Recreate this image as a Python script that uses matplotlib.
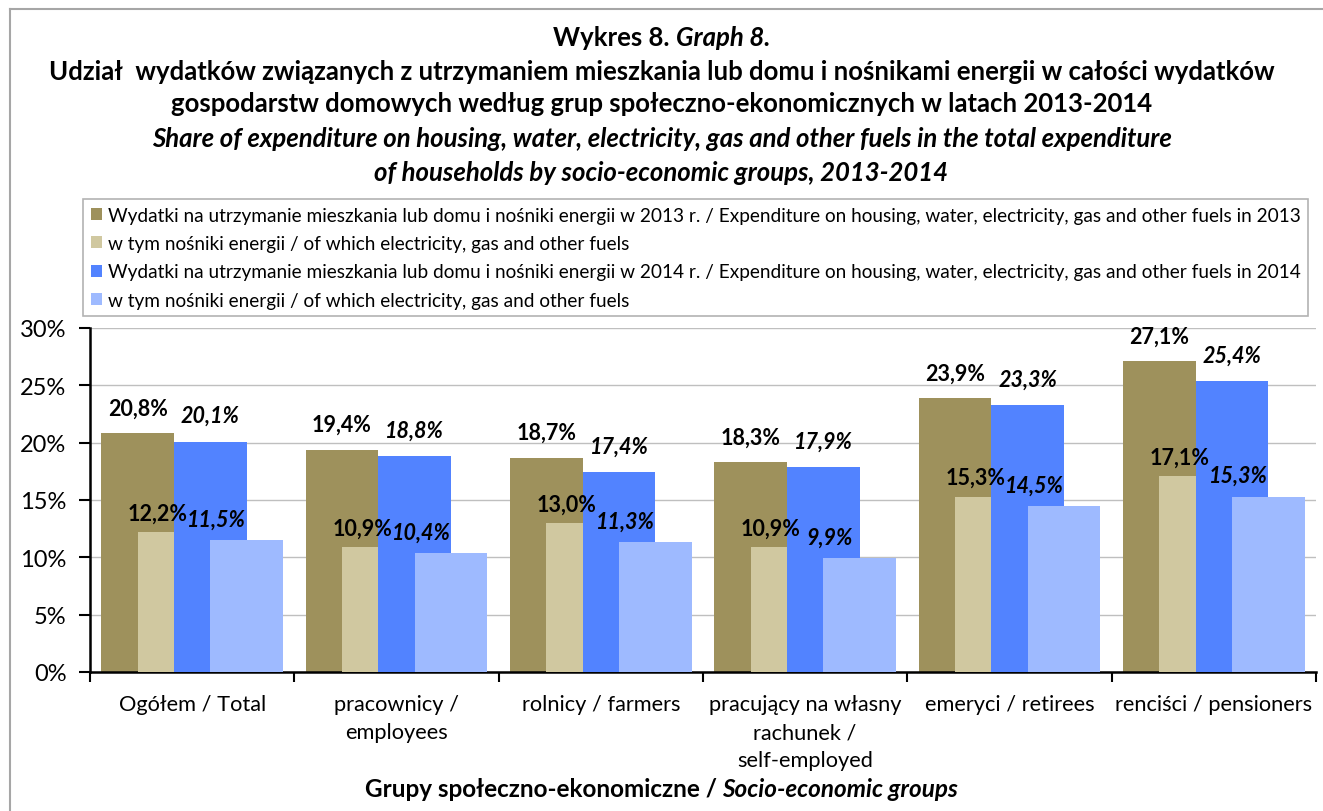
import matplotlib
matplotlib.use("Agg")
import matplotlib.pyplot as plt
from matplotlib.patches import Patch
from matplotlib.lines import Line2D
import numpy as np

plt.rcParams['font.family'] = ['Lato', 'DejaVu Sans']

groups = ["Ogółem / Total", "pracownicy /\nemployees", "rolnicy / farmers",
          "pracujący na własny\nrachunek /\nself-employed", "emeryci / retirees",
          "renciści / pensioners"]
housing_2013 = [20.8, 19.4, 18.7, 18.3, 23.9, 27.1]
energy_2013 = [12.2, 10.9, 13.0, 10.9, 15.3, 17.1]
housing_2014 = [20.1, 18.8, 17.4, 17.9, 23.3, 25.4]
energy_2014 = [11.5, 10.4, 11.3, 9.9, 14.5, 15.3]
legend_labels = [
    "Wydatki na utrzymanie mieszkania lub domu i nośniki energii w 2013 r. / Expenditure on housing, water, electricity, gas and other fuels in 2013",
    "w tym nośniki energii / of which electricity, gas and other fuels",
    "Wydatki na utrzymanie mieszkania lub domu i nośniki energii w 2014 r. / Expenditure on housing, water, electricity, gas and other fuels in 2014",
    "w tym nośniki energii / of which electricity, gas and other fuels",
]
colors = ["#9E915C", "#D0C8A0", "#5283FF", "#9EBAFF"]
series = [housing_2013, energy_2013, housing_2014, energy_2014]

fig = plt.figure(figsize=(13.23, 8.12), dpi=100)
ax = fig.add_axes([90/1323, 1-673/812, (1316-90)/1323, (673-329)/812])

x = np.arange(len(groups))
w = 0.356
step = w / 2
offs = [-1.5*step, -0.5*step, 0.5*step, 1.5*step]
# label offsets in pixels (Excel-like placement)
lab_off = [(0, 25), (-16, 19), (0, 26), (-30, 21)]
for k in range(4):
    bars = ax.bar(x + offs[k], series[k], w, color=colors[k], zorder=2 + k)
    for b, v in zip(bars, series[k]):
        ax.annotate(("%.1f%%" % v).replace(".", ","),
                    (b.get_x() + b.get_width()/2, v),
                    xytext=lab_off[k], textcoords="offset pixels",
                    ha="center", va="center", fontsize=15.5, fontweight="bold",
                    fontstyle="italic" if k >= 2 else "normal", zorder=10)

ax.set_xlim(-0.5, 5.5)
ax.set_ylim(0, 30)
ax.set_yticks(range(0, 31, 5))
ax.set_yticklabels(["%d%%" % t for t in range(0, 31, 5)], fontsize=17)
ax.yaxis.grid(True, color="#BFBFBF", lw=1, zorder=0)
ax.set_axisbelow(True)
ax.set_xticks(np.arange(-0.5, 6, 1))
ax.set_xticklabels([])
ax.set_xticks(x, minor=True)
ax.set_xticklabels(groups, minor=True, fontsize=15.7, va="top", linespacing=1.5)
ax.tick_params(axis="x", which="minor", length=0, pad=16)
ax.tick_params(axis="x", which="major", length=7, width=1.5, direction="out")
ax.tick_params(axis="y", length=8, width=1.5, direction="out", pad=9)
for s in ["top", "right"]:
    ax.spines[s].set_visible(False)
for s in ["left", "bottom"]:
    ax.spines[s].set_linewidth(1.8)

handles = [Patch(facecolor=c, edgecolor="none") for c in colors]
leg = fig.legend(handles, legend_labels, loc="upper left",
                 bbox_to_anchor=(83/1323, 1-200/812), fontsize=13.7,
                 frameon=True, fancybox=False, handlelength=0.6, handleheight=0.6,
                 handletextpad=0.3, labelspacing=0.6, borderpad=0.4,
                 borderaxespad=0)
leg.get_frame().set_edgecolor("#A0A0A0")
leg.get_frame().set_linewidth(1.2)

# titles
def two_part(y, left, right, size):
    t1 = fig.text(0.5, y, left, fontsize=size, fontweight="bold", ha="left", va="center")
    t2 = fig.text(0.5, y, right, fontsize=size, fontweight="bold", fontstyle="italic",
                  ha="left", va="center")
    fig.canvas.draw()
    r = fig.canvas.get_renderer()
    w1 = t1.get_window_extent(r).width
    w2 = t2.get_window_extent(r).width
    x0 = (1323*0.5 - (w1 + w2)/2)
    t1.set_x(x0/1323)
    t2.set_x((x0 + w1)/1323)

two_part(1-38/812, "Wykres 8. ", "Graph 8.", 18.5)
fig.text(0.5, 1-72/812, "Udział  wydatków związanych z utrzymaniem mieszkania lub domu i nośnikami energii w całości wydatków",
         ha="center", va="center", fontsize=18.5, fontweight="bold")
fig.text(0.5, 1-104/812, "gospodarstw domowych według grup społeczno-ekonomicznych w latach 2013-2014",
         ha="center", va="center", fontsize=18.5, fontweight="bold")
fig.text(0.5, 1-139/812, "Share of expenditure on housing, water, electricity, gas and other fuels in the total expenditure",
         ha="center", va="center", fontsize=18.5, fontweight="bold", fontstyle="italic")
fig.text(0.5, 1-173/812, "of households by socio-economic groups, 2013-2014",
         ha="center", va="center", fontsize=18.5, fontweight="bold", fontstyle="italic")
two_part(1-790/812, "Grupy społeczno-ekonomiczne / ", "Socio-economic groups", 17.5)

# outer frame (top and left)
fig.add_artist(Line2D([10/1323, 1], [1-10/812, 1-10/812], color="#A6A6A6", lw=1.5))
fig.add_artist(Line2D([10/1323, 10/1323], [0, 1-10/812], color="#A6A6A6", lw=1.5))

fig.savefig("out.png", dpi=100)
